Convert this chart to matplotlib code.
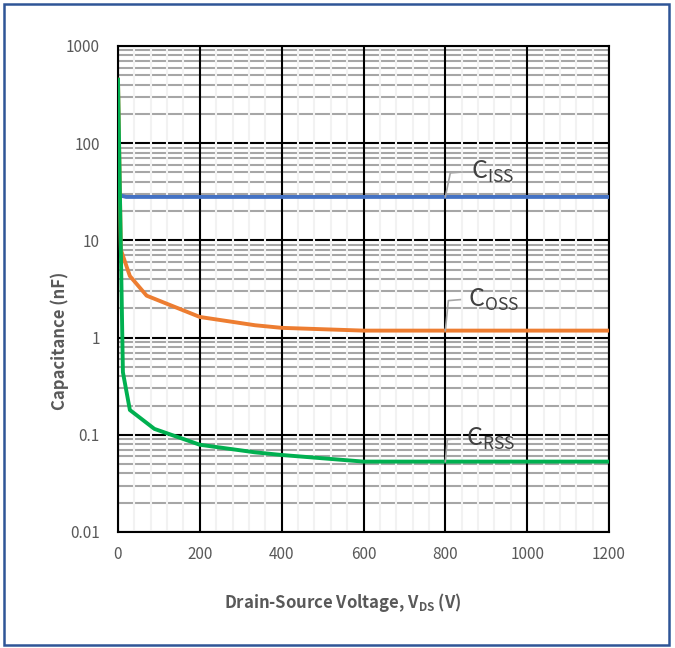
import numpy as np
import matplotlib
matplotlib.use('Agg')
import matplotlib.pyplot as plt
from matplotlib.ticker import MultipleLocator, LogLocator, FixedLocator, NullFormatter
from matplotlib.patches import Rectangle
from matplotlib.lines import Line2D

plt.rcParams['font.family'] = ['Noto Sans CJK SC', 'DejaVu Sans']
plt.rcParams['mathtext.fontset'] = 'custom'
plt.rcParams['mathtext.rm'] = 'Noto Sans CJK SC:medium'
plt.rcParams['mathtext.bf'] = 'Noto Sans CJK SC:bold'

# 数据
ciss_v = [0, 5, 20, 200, 400, 600, 800, 1000, 1200]
ciss = [32, 29, 28, 28, 28, 28, 28, 28, 28]
coss_v = [0, 7, 29, 70, 200, 335, 400, 600, 800, 1000, 1200]
coss = [450, 8.0, 4.3, 2.7, 1.63, 1.34, 1.26, 1.18, 1.18, 1.18, 1.18]
crss_v = [0, 12, 29, 89, 200, 335, 400, 600, 800, 1000, 1200]
crss = [450, 0.44, 0.18, 0.115, 0.079, 0.066, 0.062, 0.053, 0.053, 0.053, 0.053]

labels = ['ISS', 'OSS', 'RSS']
label_at = 800
colors = ['#4472C4', '#ED7D31', '#00B050']
y_ticks = [0.01, 0.1, 1, 10, 100, 1000]
y_ticklabels = ['0.01', '0.1', '1', '10', '100', '1000']

txt = '#595959'

fig = plt.figure(figsize=(6.75, 6.48), dpi=100)
ax = fig.add_axes([118 / 675, 1 - 532 / 648, 491 / 675, 486 / 648])

series = [(ciss_v, ciss), (coss_v, coss), (crss_v, crss)]
for (xv, yv), c in zip(series, colors):
    ax.plot(xv, yv, color=c, lw=2.8, zorder=3, solid_joinstyle='round')

ax.set_yscale('log')
ax.set_xlim(0, 1200)
ax.set_ylim(0.01, 1000)
ax.xaxis.set_major_locator(MultipleLocator(200))
ax.xaxis.set_minor_locator(MultipleLocator(40))
ax.yaxis.set_major_locator(FixedLocator(y_ticks))
ax.yaxis.set_minor_locator(LogLocator(base=10, subs=np.arange(2, 10)))
ax.yaxis.set_minor_formatter(NullFormatter())
ax.set_yticklabels(y_ticklabels)

# 网格
ax.set_axisbelow(True)
ax.grid(which='major', axis='both', color='black', lw=1.5)
ax.grid(which='minor', axis='y', color='#A6A6A6', lw=1.5)
ax.grid(which='minor', axis='x', color='#F2F2F2', lw=1.5)
ax.yaxis.set_zorder(0.4)
ax.xaxis.set_zorder(0.6)

for s in ax.spines.values():
    s.set_color('black')
    s.set_linewidth(1.5)
ax.tick_params(which='both', length=0, labelsize=11, colors=txt)
ax.tick_params(axis='x', pad=10)
ax.tick_params(axis='y', pad=13)
for t in ax.get_xticklabels() + ax.get_yticklabels():
    t.set_fontweight('light')

ax.set_ylabel('Capacitance (nF)', fontsize=12, fontweight='bold', color=txt)
ax.yaxis.set_label_coords(-0.10, 0.393)
ax.set_xlabel(r'Drain-Source Voltage, V$_{\mathbf{DS}}$ (V)', fontsize=12,
              fontweight='bold', color=txt)
ax.xaxis.set_label_coords(0.458, -0.122)

# 标注
fig.canvas.draw()
offsets = [((5, 24), (18, 25)), ((3, 30), (15, 31)), ((2, 22), (13, 23))]
inv = fig.transFigure.inverted()
for (xv, yv), lab, (o1, o2) in zip(series, labels, offsets):
    v = np.interp(label_at, xv, yv)
    px, py = ax.transData.transform((label_at, v))
    pts = np.array([[px, py], [px + o1[0], py + o1[1]], [px + o2[0], py + o2[1]]])
    fpts = inv.transform(pts)
    fig.add_artist(Line2D(fpts[:, 0], fpts[:, 1], color='#A6A6A6', lw=1.2, zorder=5))
    tx, ty = inv.transform((px + o2[0] + 8, py + o2[1]))
    fig.text(tx, ty, r'$\mathrm{C_{%s}}$' % lab, fontsize=18, color='#404040',
             ha='left', va='center', zorder=6)

fig.add_artist(Rectangle((4 / 675, 3 / 648), 665 / 675, 641 / 648, transform=fig.transFigure,
                         fill=False, edgecolor='#2F5597', lw=1.8))

plt.savefig('out.png', dpi=100)
